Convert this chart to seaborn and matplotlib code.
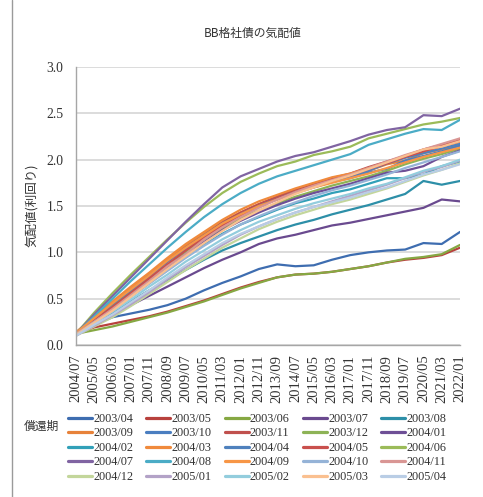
import matplotlib
matplotlib.use("Agg")
import matplotlib.pyplot as plt
import matplotlib.font_manager as fm
import pandas as pd
import seaborn as sns
from matplotlib.lines import Line2D

# Observation dates shown on the horizontal axis (every 10 months)
obs_dates = ["2004/07", "2005/05", "2006/03", "2007/01", "2007/11", "2008/09",
             "2009/07", "2010/05", "2011/03", "2012/01", "2012/11", "2013/09",
             "2014/07", "2015/05", "2016/03", "2017/01", "2017/11", "2018/09",
             "2019/07", "2020/05", "2021/03", "2022/01"]

# Maturity of each bond series
maturities = ["2003/04", "2003/05", "2003/06", "2003/07", "2003/08",
              "2003/09", "2003/10", "2003/11", "2003/12", "2004/01",
              "2004/02", "2004/03", "2004/04", "2004/05", "2004/06",
              "2004/07", "2004/08", "2004/09", "2004/10", "2004/11",
              "2004/12", "2005/01", "2005/02", "2005/03", "2005/04"]

# Quoted yields per maturity, one value per observation date
y_2003_04 = [0.12, 0.22, 0.30, 0.34, 0.38, 0.43, 0.50, 0.59, 0.67, 0.74, 0.82,
             0.87, 0.85, 0.86, 0.92, 0.97, 1.00, 1.02, 1.03, 1.10, 1.09, 1.22]
y_2003_05 = [0.12, 0.19, 0.23, 0.27, 0.31, 0.36, 0.42, 0.48, 0.55, 0.62, 0.68,
             0.73, 0.76, 0.77, 0.79, 0.82, 0.85, 0.89, 0.92, 0.94, 0.97, 1.05]
y_2003_06 = [0.12, 0.16, 0.20, 0.25, 0.30, 0.35, 0.41, 0.47, 0.54, 0.61, 0.67,
             0.73, 0.76, 0.77, 0.79, 0.82, 0.85, 0.89, 0.93, 0.95, 0.98, 1.08]
y_2003_07 = [0.12, 0.22, 0.33, 0.43, 0.53, 0.63, 0.73, 0.83, 0.92, 1.00, 1.09,
             1.15, 1.19, 1.24, 1.29, 1.32, 1.36, 1.40, 1.44, 1.48, 1.57, 1.55]
y_2003_08 = [0.12, 0.23, 0.35, 0.47, 0.59, 0.70, 0.81, 0.92, 1.02, 1.10, 1.17,
             1.24, 1.30, 1.35, 1.41, 1.46, 1.51, 1.57, 1.63, 1.77, 1.73, 1.77]
y_2003_09 = [0.13, 0.29, 0.46, 0.61, 0.77, 0.92, 1.07, 1.20, 1.33, 1.43, 1.52,
             1.60, 1.67, 1.72, 1.78, 1.83, 1.88, 1.95, 1.99, 2.07, 2.11, 2.16]
y_2003_10 = [0.13, 0.28, 0.44, 0.59, 0.75, 0.90, 1.05, 1.18, 1.30, 1.41, 1.50,
             1.57, 1.64, 1.70, 1.76, 1.80, 1.86, 1.90, 1.99, 2.04, 2.09, 2.15]
y_2003_11 = [0.12, 0.28, 0.43, 0.58, 0.74, 0.90, 1.05, 1.18, 1.32, 1.43, 1.52,
             1.60, 1.68, 1.74, 1.80, 1.85, 1.92, 1.98, 2.04, 2.11, 2.16, 2.22]
y_2003_12 = [0.12, 0.27, 0.42, 0.56, 0.72, 0.86, 1.01, 1.14, 1.26, 1.37, 1.45,
             1.53, 1.60, 1.66, 1.72, 1.77, 1.82, 1.88, 1.95, 2.01, 2.06, 2.12]
y_2004_01 = [0.12, 0.26, 0.40, 0.54, 0.69, 0.84, 0.98, 1.11, 1.24, 1.34, 1.43,
             1.51, 1.58, 1.64, 1.69, 1.74, 1.80, 1.86, 1.88, 1.93, 2.03, 2.10]
y_2004_02 = [0.12, 0.25, 0.39, 0.53, 0.67, 0.81, 0.95, 1.08, 1.20, 1.30, 1.38,
             1.46, 1.53, 1.58, 1.64, 1.68, 1.74, 1.80, 1.80, 1.84, 1.93, 1.98]
y_2004_03 = [0.14, 0.30, 0.47, 0.63, 0.78, 0.94, 1.09, 1.22, 1.35, 1.46, 1.55,
             1.62, 1.69, 1.75, 1.81, 1.85, 1.91, 1.97, 2.03, 2.09, 2.14, 2.19]
y_2004_04 = [0.12, 0.28, 0.44, 0.59, 0.74, 0.90, 1.04, 1.18, 1.31, 1.41, 1.50,
             1.58, 1.65, 1.71, 1.77, 1.82, 1.88, 1.96, 2.02, 2.07, 2.12, 2.17]
y_2004_05 = [0.12, 0.27, 0.41, 0.56, 0.72, 0.87, 1.02, 1.16, 1.29, 1.40, 1.49,
             1.58, 1.65, 1.71, 1.78, 1.83, 1.90, 1.96, 2.03, 2.09, 2.15, 2.20]
y_2004_06 = [0.12, 0.35, 0.56, 0.76, 0.95, 1.14, 1.32, 1.49, 1.64, 1.76, 1.85,
             1.93, 1.98, 2.05, 2.09, 2.14, 2.23, 2.28, 2.33, 2.38, 2.41, 2.45]
y_2004_07 = [0.12, 0.33, 0.53, 0.73, 0.93, 1.13, 1.33, 1.52, 1.70, 1.82, 1.90,
             1.98, 2.04, 2.08, 2.14, 2.20, 2.27, 2.32, 2.35, 2.48, 2.47, 2.55]
y_2004_08 = [0.12, 0.31, 0.50, 0.69, 0.87, 1.05, 1.22, 1.38, 1.52, 1.64, 1.74,
             1.82, 1.88, 1.94, 2.00, 2.06, 2.16, 2.22, 2.28, 2.33, 2.32, 2.43]
y_2004_09 = [0.13, 0.29, 0.45, 0.60, 0.75, 0.91, 1.05, 1.18, 1.31, 1.41, 1.50,
             1.57, 1.64, 1.70, 1.75, 1.80, 1.85, 1.91, 1.97, 2.03, 2.08, 2.13]
y_2004_10 = [0.11, 0.25, 0.38, 0.52, 0.66, 0.80, 0.94, 1.07, 1.19, 1.30, 1.39,
             1.47, 1.54, 1.61, 1.67, 1.72, 1.78, 1.84, 1.91, 1.97, 2.03, 2.09]
y_2004_11 = [0.12, 0.25, 0.39, 0.54, 0.69, 0.85, 0.98, 1.14, 1.27, 1.38, 1.48,
             1.57, 1.65, 1.72, 1.78, 1.84, 1.91, 1.98, 2.05, 2.11, 2.17, 2.23]
y_2004_12 = [0.10, 0.20, 0.30, 0.42, 0.55, 0.68, 0.81, 0.93, 1.05, 1.15, 1.25,
             1.33, 1.40, 1.46, 1.52, 1.57, 1.63, 1.69, 1.76, 1.83, 1.89, 1.96]
y_2005_01 = [0.10, 0.21, 0.32, 0.44, 0.57, 0.71, 0.84, 0.96, 1.08, 1.19, 1.28,
             1.36, 1.43, 1.49, 1.55, 1.61, 1.67, 1.73, 1.80, 1.87, 1.92, 1.99]
y_2005_02 = [0.11, 0.24, 0.36, 0.49, 0.63, 0.76, 0.90, 1.02, 1.14, 1.24, 1.33,
             1.40, 1.47, 1.53, 1.58, 1.63, 1.69, 1.74, 1.81, 1.88, 1.93, 2.00]
y_2005_03 = [0.11, 0.24, 0.37, 0.52, 0.67, 0.82, 0.96, 1.10, 1.23, 1.35, 1.45,
             1.54, 1.63, 1.70, 1.77, 1.83, 1.90, 1.97, 2.04, 2.11, 2.14, 2.20]
y_2005_04 = [0.10, 0.22, 0.33, 0.46, 0.59, 0.73, 0.86, 0.98, 1.10, 1.20, 1.28,
             1.36, 1.43, 1.49, 1.54, 1.59, 1.65, 1.70, 1.77, 1.84, 1.89, 1.95]

series_values = [y_2003_04, y_2003_05, y_2003_06, y_2003_07, y_2003_08,
                 y_2003_09, y_2003_10, y_2003_11, y_2003_12, y_2004_01,
                 y_2004_02, y_2004_03, y_2004_04, y_2004_05, y_2004_06,
                 y_2004_07, y_2004_08, y_2004_09, y_2004_10, y_2004_11,
                 y_2004_12, y_2005_01, y_2005_02, y_2005_03, y_2005_04]

line_colors = ["#3E6DB0", "#B8413D", "#86A843", "#6A4A8F", "#2D8FA8",
               "#E7823A", "#4A7EC0", "#C0504D", "#8DB356", "#6E4F96",
               "#31A0B8", "#F08A3C", "#4F81BD", "#C9504D", "#9BBB59",
               "#8064A2", "#4BACC6", "#F79646", "#95B3D7", "#D99694",
               "#C3D69B", "#B3A2C7", "#93CDDD", "#FAC090", "#B9CDE5"]


def months_from_start(label, start="2004/07"):
    y, m = map(int, label.split("/"))
    y0, m0 = map(int, start.split("/"))
    return (y - y0) * 12 + (m - m0)


positions = [months_from_start(d) for d in obs_dates]

rows = []
for mat, vals in zip(maturities, series_values):
    for pos, v in zip(positions, vals):
        rows.append({"month": pos, "yield": v, "maturity": mat})
df = pd.DataFrame(rows)

sns.set_theme(style="white")
plt.rcParams["font.family"] = ["Liberation Serif", "DejaVu Serif"]

# Resolve the serif face to a concrete file so every label uses it
try:
    SERIF_FILE = fm.findfont(fm.FontProperties(family="Liberation Serif"),
                             fallback_to_default=False)
except Exception:
    SERIF_FILE = fm.findfont(fm.FontProperties(family="DejaVu Serif"))


def serif(size):
    return fm.FontProperties(fname=SERIF_FILE, size=size)


JP = ["Noto Sans CJK JP", "DejaVu Sans"]

W, H = 483, 497
fig = plt.figure(figsize=(W / 100, H / 100), dpi=100)
fig.patch.set_facecolor("white")
ax = fig.add_axes([76 / W, 1 - 345 / H, 384 / W, 278 / H])

sns.lineplot(data=df, x="month", y="yield", hue="maturity",
             hue_order=maturities, palette=line_colors, linewidth=1.6,
             legend=False, ax=ax, estimator=None, sort=True)

yticks = [0.0, 0.5, 1.0, 1.5, 2.0, 2.5, 3.0]
ax.set_xlim(positions[0], positions[-1])
ax.set_ylim(0, 3.0)
ax.set_yticks(yticks)
ax.set_yticklabels([f"{t:.1f}" for t in yticks], fontproperties=serif(9.8),
                   color="#333333")
ax.set_xticks(positions)
ax.set_xticklabels(obs_dates, rotation=90, fontproperties=serif(10.5),
                   color="#333333")
ax.tick_params(axis="y", length=0, pad=9)
ax.tick_params(axis="x", length=3, width=0.8, color="#a6a6a6", pad=4)
ax.set_xlabel("")
ax.set_ylabel("")

ax.grid(axis="y", color="#d9d9d9", linewidth=1.3)
ax.grid(axis="x", visible=False)
ax.set_axisbelow(True)
for side in ["top", "right"]:
    ax.spines[side].set_visible(False)
for side in ["left", "bottom"]:
    ax.spines[side].set_color("#a6a6a6")
    ax.spines[side].set_linewidth(1.0)

# Title and axis caption
fig.text(253 / W, 1 - 33 / H, "BB格社債の気配値", ha="center", va="center",
         fontsize=8.5, color="#333333", family=JP)
fig.text(32 / W, 1 - 205 / H, "気配値(利回り)", ha="center", va="center",
         rotation=90, fontsize=9, color="#333333", family=JP)

# Legend laid out row by row, 5 columns
handles = [Line2D([], [], color=c, linewidth=2.3) for c in line_colors]
ncol, nrow = 5, 5
order = [r * ncol + c for c in range(ncol) for r in range(nrow)]
leg = fig.legend([handles[i] for i in order], [maturities[i] for i in order],
                 ncol=ncol, loc="upper left",
                 bbox_to_anchor=(68 / W, 1 - 413 / H), frameon=False,
                 prop=serif(8.8),
                 handlelength=1.97, handletextpad=0.1, columnspacing=1.06,
                 labelspacing=0.2, borderpad=0, borderaxespad=0)
for t in leg.get_texts():
    t.set_color("#333333")
fig.text(41 / W, 1 - 426 / H, "償還期", ha="center", va="center",
         fontsize=8.5, color="#333333", family=JP)

# Chart-area edge on the left
fig.add_artist(Line2D([12 / W, 12 / W], [0, 1], color="#9a9a9a",
                      linewidth=1.0, transform=fig.transFigure))

fig.savefig("out.png", dpi=100, facecolor="white")
